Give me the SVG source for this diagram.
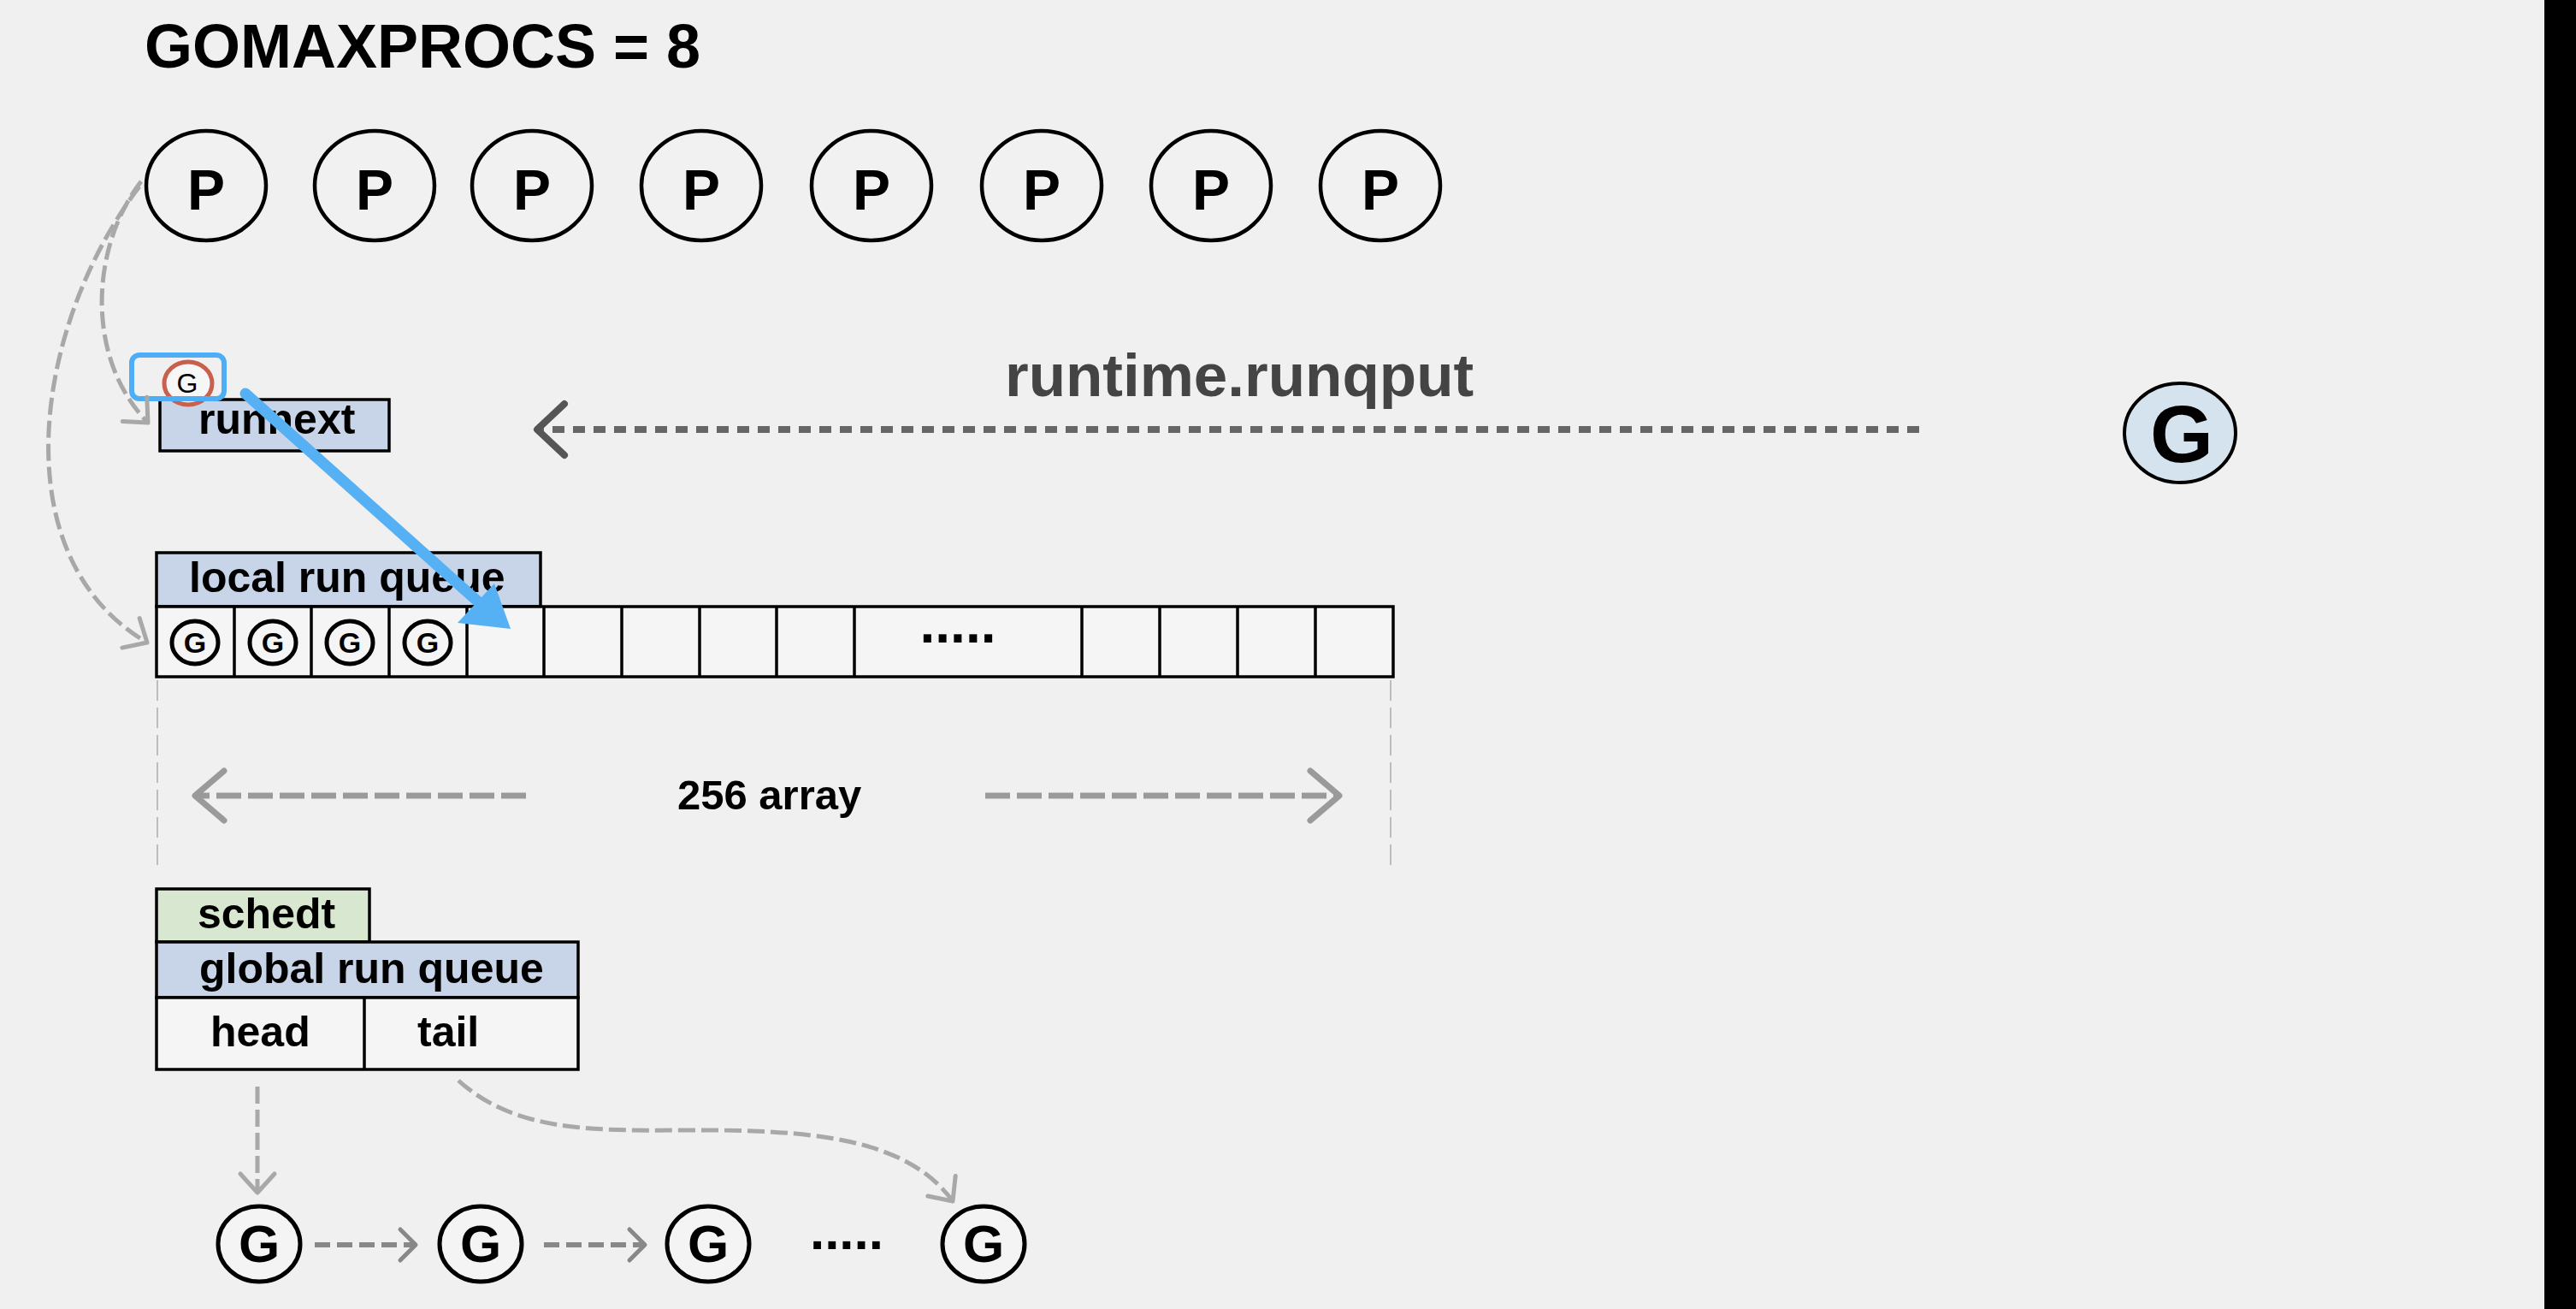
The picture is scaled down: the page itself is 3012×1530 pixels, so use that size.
<svg xmlns="http://www.w3.org/2000/svg" width="3012" height="1530" viewBox="0 0 3012 1530">
<style>
text{font-family:"Liberation Sans",Arial,sans-serif;font-weight:bold;fill:#000}
.p{fill:#f1f1f1;stroke:#000;stroke-width:4.5}
.pl{font-size:66px;text-anchor:middle}
.box{stroke:#000;stroke-width:3.5}
.blue{fill:#c8d5e8}
.green{fill:#d8e7cf}
.cell{fill:#f5f5f5;stroke:#000;stroke-width:3.5}
.lbl{font-size:50px}
.gs{fill:none;stroke:#000;stroke-width:5}
.gsl{font-size:34px;text-anchor:middle}
.gb{fill:#f4f4f4;stroke:#000;stroke-width:5}
.gbl{font-size:62px;text-anchor:middle}
.dash-thin{fill:none;stroke:#a8a8a8;stroke-width:5;stroke-dasharray:20 7}
.dash-arr{fill:none;stroke:#9a9a9a;stroke-width:7;stroke-dasharray:29 8}
.dash-chain{fill:none;stroke:#888;stroke-width:6;stroke-dasharray:18 8}
.guide{fill:none;stroke:#bdbdbd;stroke-width:2;stroke-dasharray:24 8}
</style>
<defs>
<marker id="m-runq" markerUnits="userSpaceOnUse" viewBox="-50 -40 60 80" markerWidth="60" markerHeight="80" refX="0" refY="0" orient="auto" overflow="visible">
<path d="M-32 -30 L0 0 L-32 30" fill="none" stroke="#555" stroke-width="8" stroke-linecap="round" stroke-linejoin="round"/>
</marker>
<marker id="m-arr" markerUnits="userSpaceOnUse" viewBox="-50 -40 60 80" markerWidth="60" markerHeight="80" refX="0" refY="0" orient="auto" overflow="visible">
<path d="M-34 -29 L0 0 L-34 29" fill="none" stroke="#9a9a9a" stroke-width="7" stroke-linecap="round" stroke-linejoin="round"/>
</marker>
<marker id="m-chain" markerUnits="userSpaceOnUse" viewBox="-50 -40 60 80" markerWidth="60" markerHeight="80" refX="0" refY="0" orient="auto" overflow="visible">
<path d="M-18 -18 L0 0 L-18 18" fill="none" stroke="#888" stroke-width="5" stroke-linecap="round" stroke-linejoin="round"/>
</marker>
<marker id="m-thin" markerUnits="userSpaceOnUse" viewBox="-50 -40 60 80" markerWidth="60" markerHeight="80" refX="0" refY="0" orient="auto" overflow="visible">
<path d="M-22 -20 L0 0 L-22 20" fill="none" stroke="#a8a8a8" stroke-width="5" stroke-linecap="round" stroke-linejoin="round"/>
</marker>
</defs>
<rect x="0" y="0" width="3012" height="1530" fill="#f0f0f0"/>
<rect x="2975" y="0" width="37" height="1530" fill="#000"/>

<g id="title"><text x="169" y="79" font-size="72">GOMAXPROCS = 8</text></g>

<g id="p1"><ellipse class="p" cx="241" cy="217" rx="70" ry="64"/><text class="pl" x="241" y="245">P</text></g>
<g id="p2"><ellipse class="p" cx="438" cy="217" rx="70" ry="64"/><text class="pl" x="438" y="245">P</text></g>
<g id="p3"><ellipse class="p" cx="622" cy="217" rx="70" ry="64"/><text class="pl" x="622" y="245">P</text></g>
<g id="p4"><ellipse class="p" cx="820" cy="217" rx="70" ry="64"/><text class="pl" x="820" y="245">P</text></g>
<g id="p5"><ellipse class="p" cx="1019" cy="217" rx="70" ry="64"/><text class="pl" x="1019" y="245">P</text></g>
<g id="p6"><ellipse class="p" cx="1218" cy="217" rx="70" ry="64"/><text class="pl" x="1218" y="245">P</text></g>
<g id="p7"><ellipse class="p" cx="1416" cy="217" rx="70" ry="64"/><text class="pl" x="1416" y="245">P</text></g>
<g id="p8"><ellipse class="p" cx="1614" cy="217" rx="70" ry="64"/><text class="pl" x="1614" y="245">P</text></g>

<g id="runqput-label"><text x="1175" y="463" font-size="71" style="fill:#444">runtime.runqput</text></g>

<g id="g-new"><ellipse cx="2549" cy="506" rx="65" ry="58" fill="#d5e3ee" stroke="#000" stroke-width="4"/><text x="2551" y="540" font-size="95" text-anchor="middle">G</text></g>

<g id="runnext"><rect class="box blue" x="187" y="467" width="268" height="60"/><text class="lbl" x="232" y="507">runnext</text></g>

<g id="g-runnext">
<ellipse cx="220" cy="448" rx="28" ry="25" fill="#f6f6f6" stroke="#c9604e" stroke-width="5"/>
<text x="219" y="459" font-size="32" text-anchor="middle" style="font-weight:normal">G</text>
<rect x="154" y="415" width="108" height="51" rx="9" fill="none" stroke="#4eaef5" stroke-width="6"/>
</g>

<g id="local-run-queue">
<rect class="box blue" x="183" y="646" width="449" height="63"/>
<text class="lbl" x="221" y="692">local run queue</text>
<rect class="cell" x="183" y="709" width="1446" height="82"/>
<path d="M274 709V791M364 709V791M455 709V791M546 709V791M636 709V791M727 709V791M818 709V791M908 709V791M999 709V791M1265 709V791M1356 709V791M1447 709V791M1538 709V791" stroke="#000" stroke-width="3.5"/>
<text x="1120" y="751" font-size="64" text-anchor="middle">.....</text>
</g>
<g id="lrq-g1"><ellipse class="gs" cx="228" cy="751" rx="27" ry="25"/><text class="gsl" x="228" y="763">G</text></g>
<g id="lrq-g2"><ellipse class="gs" cx="319" cy="751" rx="27" ry="25"/><text class="gsl" x="319" y="763">G</text></g>
<g id="lrq-g3"><ellipse class="gs" cx="409" cy="751" rx="27" ry="25"/><text class="gsl" x="409" y="763">G</text></g>
<g id="lrq-g4"><ellipse class="gs" cx="500" cy="751" rx="27" ry="25"/><text class="gsl" x="500" y="763">G</text></g>

<g id="array-label"><text x="792" y="946" font-size="49">256 array</text></g>

<g id="schedt">
<rect class="box green" x="183" y="1039" width="249" height="62"/>
<text class="lbl" x="231" y="1085">schedt</text>
<rect class="box blue" x="183" y="1101" width="493" height="65"/>
<text class="lbl" x="233" y="1149">global run queue</text>
<rect class="cell" x="183" y="1166" width="493" height="84"/>
<path d="M426 1166V1250" stroke="#000" stroke-width="3.5"/>
<text class="lbl" x="246" y="1223">head</text>
<text class="lbl" x="488" y="1223">tail</text>
</g>

<g id="grq-g1"><ellipse class="gb" cx="303" cy="1454" rx="48" ry="44"/><text class="gbl" x="303" y="1475">G</text></g>
<g id="grq-g2"><ellipse class="gb" cx="562" cy="1454" rx="48" ry="44"/><text class="gbl" x="562" y="1475">G</text></g>
<g id="grq-g3"><ellipse class="gb" cx="828" cy="1454" rx="48" ry="44"/><text class="gbl" x="828" y="1475">G</text></g>
<g id="grq-dots"><text x="990" y="1460" font-size="62" text-anchor="middle">.....</text></g>
<g id="grq-g4"><ellipse class="gb" cx="1150" cy="1454" rx="48" ry="44"/><text class="gbl" x="1150" y="1475">G</text></g>

<g id="connectors">
<path class="dash-thin" d="M165 212 C105 290 100 420 173 494" marker-end="url(#m-thin)"/>
<path class="dash-thin" d="M163 218 C40 380 0 650 172 751" marker-end="url(#m-thin)"/>
<path d="M2244 502 L628 502" fill="none" stroke="#666" stroke-width="8" stroke-dasharray="14 10" marker-end="url(#m-runq)"/>
<path class="guide" d="M184 795V1012M1626 795V1012"/>
<path class="dash-arr" d="M615 930 L228 930" marker-end="url(#m-arr)"/>
<path class="dash-arr" d="M1152 930 L1566 930" marker-end="url(#m-arr)"/>
<path class="dash-thin" d="M301 1270 L301 1394" marker-end="url(#m-thin)"/>
<path class="dash-thin" d="M536 1263 C600 1320 680 1322 800 1321 C950 1320 1060 1330 1114 1404" marker-end="url(#m-thin)"/>
<path class="dash-chain" d="M368 1455 L486 1455" marker-end="url(#m-chain)"/>
<path class="dash-chain" d="M636 1455 L754 1455" marker-end="url(#m-chain)"/>
<g id="blue-arrow">
<path d="M287 460 L562 706" stroke="#55b0f4" stroke-width="13" stroke-linecap="round"/>
<polygon points="597,735 535,728 578,682" fill="#55b0f4"/>
</g>
</g>
</svg>
